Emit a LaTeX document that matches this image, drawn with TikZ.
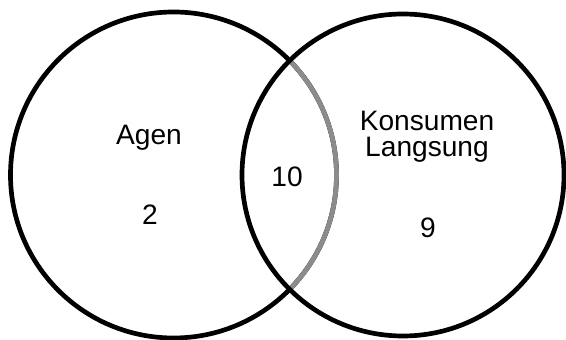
\documentclass[tikz,border=0pt]{standalone}
\usepackage{fontspec}
\setmainfont{Liberation Sans}
\usepackage{xcolor}
\usepackage{tikz}
\usetikzlibrary{shapes,positioning,calc}

\tikzset{
    setcircle/.style={circle, draw=black, line width=4pt, inner sep=0pt},
    setlabel/.style={font=\fontsize{24pt}{23pt}\selectfont, inner sep=0pt, align=center}
}

\begin{document}
\begin{tikzpicture}
        \useasboundingbox (0, 0) rectangle (16.98, 10.2);

        % Set circles
        \node[setcircle, minimum size=9.78cm] (agen) at (5.205, 4.95) {};
        \begin{scope}
            \clip (12.09, 4.95) circle (4.83);
            \draw[black!45, line width=4pt] (agen.center) circle (4.89);
        \end{scope}
        \node[setcircle, minimum size=9.66cm] (konsumen) at (12.09, 4.95) {};

        % Labels and counts
        \node[setlabel, anchor=base] (agenlabel) at (4.47, 5.85) {Agen};
        \node[setlabel, anchor=base] (agencount) at (4.50, 3.45) {2};
        \node[setlabel, anchor=base] (bothcount) at (8.61, 4.59) {10};
        \node[setlabel, anchor=base] (konsumenlabel) at (12.81, 5.49) {Konsumen\\Langsung};
        \node[setlabel, anchor=base] (konsumencount) at (12.84, 3.06) {9};
    \end{tikzpicture}
\end{document}
